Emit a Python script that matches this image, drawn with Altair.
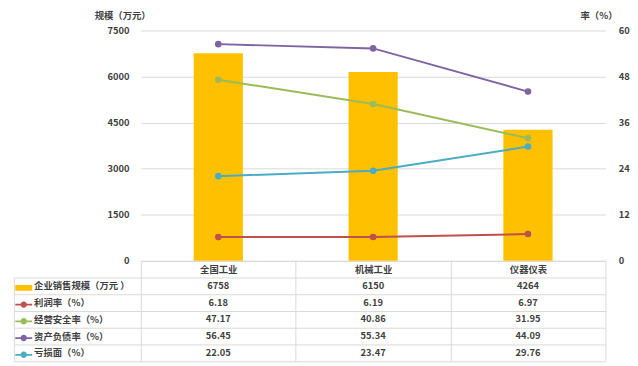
import altair as alt
import pandas as pd

categories = ["全国工业", "机械工业", "仪器仪表"]
sales = [6758, 6150, 4264]
profit_rate = [6.18, 6.19, 6.97]
safety_rate = [47.17, 40.86, 31.95]
debt_rate = [56.45, 55.34, 44.09]
loss_rate = [22.05, 23.47, 29.76]

row_names = ["企业销售规模（万元 ）", "利润率（%）", "经营安全率（%）", "资产负债率（%）", "亏损面（%）"]
line_names = row_names[1:]
line_values = [profit_rate, safety_rate, debt_rate, loss_rate]
colors = ["#FFC000", "#C0504D", "#9BBB59", "#8064A2", "#4BACC6"]
left_ticks = [0, 1500, 3000, 4500, 6000, 7500]
right_ticks = [0, 12, 24, 36, 48, 60]

bar_df = pd.DataFrame({"category": categories, "value": sales})
line_df = pd.DataFrame(
    [{"category": c, "series": s, "value": v}
     for s, vals in zip(line_names, line_values)
     for c, v in zip(categories, vals)]
)
table_rows = []
for r, vals in zip(row_names, [sales] + line_values):
    for c, v in zip(categories, vals):
        table_rows.append({"row": r, "category": c,
                           "text": str(v) if r == row_names[0] else f"{v:.2f}"})
table_df = pd.DataFrame(table_rows)

FONT = "Noto Sans CJK SC"
TXT = "#404040"
GRID = "#D9D9D9"

bar_path = "M-1,-0.34L1,-0.34L1,0.34L-1,0.34Z"
line_path = ("M-1,-0.1L1,-0.1L1,0.1L-1,0.1Z "
             "M0.38,0A0.38,0.38,0,1,1,-0.38,0A0.38,0.38,0,1,1,0.38,0Z")
shapes = [bar_path] + [line_path] * 4

x_top = alt.X(
    "category:N", sort=categories,
    scale=alt.Scale(paddingInner=0, paddingOuter=0),
    axis=alt.Axis(title=None, orient="bottom", labelAngle=0, domainColor=GRID,
                  tickColor=GRID, tickSize=17, tickBand="extent",
                  labelPadding=-8, labelBaseline="middle", grid=False),
)

bars = alt.Chart(bar_df).mark_bar(color="#FFC000", width=50).encode(
    x=x_top,
    y=alt.Y("value:Q", scale=alt.Scale(domain=[0, 7500], nice=False),
            axis=alt.Axis(values=left_ticks, format="d", title="规模（万元）",
                          titleAngle=0, titleX=-19, titleY=-15,
                          titleAlign="center", titleBaseline="middle",
                          labelPadding=12, ticks=False, domain=False,
                          grid=True, gridColor=GRID)),
)

lines = alt.Chart(line_df).mark_line(
    strokeWidth=2, point=alt.OverlayMarkDef(filled=True, size=45)
).encode(
    x=x_top,
    y=alt.Y("value:Q", scale=alt.Scale(domain=[0, 60], nice=False),
            axis=alt.Axis(orient="right", values=right_ticks, format="d",
                          title="率（%）", titleAngle=0, titleX=-7, titleY=-15,
                          titleAlign="center", titleBaseline="middle",
                          grid=False, ticks=False, domain=False,
                          labelAlign="left", labelPadding=13)),
    color=alt.Color("series:N", scale=alt.Scale(domain=line_names, range=colors[1:]),
                    legend=None),
)

top = alt.layer(bars, lines).resolve_scale(y="independent").properties(
    width=472, height=234)

y_scale = alt.Scale(domain=row_names, paddingInner=0, paddingOuter=0)

text_layer = alt.Chart(table_df).mark_text(
    font=FONT, fontSize=9.5, fontWeight="bold", color=TXT
).encode(
    x=alt.X("category:N", sort=categories,
            scale=alt.Scale(paddingInner=0, paddingOuter=0),
            axis=alt.Axis(title=None, orient="top", labels=False, ticks=False,
                          domain=False, grid=True, gridColor=GRID,
                          tickBand="extent")),
    y=alt.Y("row:N", sort=row_names, scale=y_scale,
            axis=alt.Axis(title=None, orient="left", labelAlign="left",
                          labelPadding=-20, tickSize=129, tickBand="extent",
                          tickColor=GRID, grid=True, gridColor=GRID,
                          domain=False, labelBaseline="middle")),
    text="text:N",
)

legend = alt.Legend(orient="none", legendX=-128, legendY=1.5, title=None,
                    labelExpr="''", symbolOpacity=1, symbolStrokeWidth=0,
                    symbolSize=296, rowPadding=3.0, padding=0, symbolOffset=0,
                    labelOffset=0)

swatch_layer = alt.Chart(table_df).mark_point(filled=True, opacity=0).encode(
    x=alt.X("category:N", sort=categories),
    y=alt.Y("row:N", sort=row_names, scale=y_scale,
            axis=alt.Axis(title=None, orient="left", offset=129, labels=False,
                          ticks=False, grid=False, domain=True,
                          domainColor=GRID)),
    color=alt.Color("row:N", sort=row_names,
                    scale=alt.Scale(domain=row_names, range=colors), legend=legend),
    shape=alt.Shape("row:N", sort=row_names,
                    scale=alt.Scale(domain=row_names, range=shapes), legend=legend),
)

table = alt.layer(text_layer, swatch_layer).resolve_scale(
    y="independent").resolve_axis(y="independent").properties(width=472, height=85)

chart = alt.vconcat(top, table, spacing=17, bounds="flush").resolve_scale(
    color="independent", shape="independent"
).resolve_legend(color="independent", shape="independent").properties(
    padding={"left": 5, "top": 0, "right": 0, "bottom": 0}
).configure_view(stroke=None).configure_axis(
    labelFont=FONT, labelFontSize=9.5, labelFontWeight="bold", labelColor=TXT,
    titleFont=FONT, titleFontSize=9.5, titleFontWeight="bold", titleColor=TXT,
)

chart.save("out.html", embed_options={"renderer": "svg", "actions": False})
